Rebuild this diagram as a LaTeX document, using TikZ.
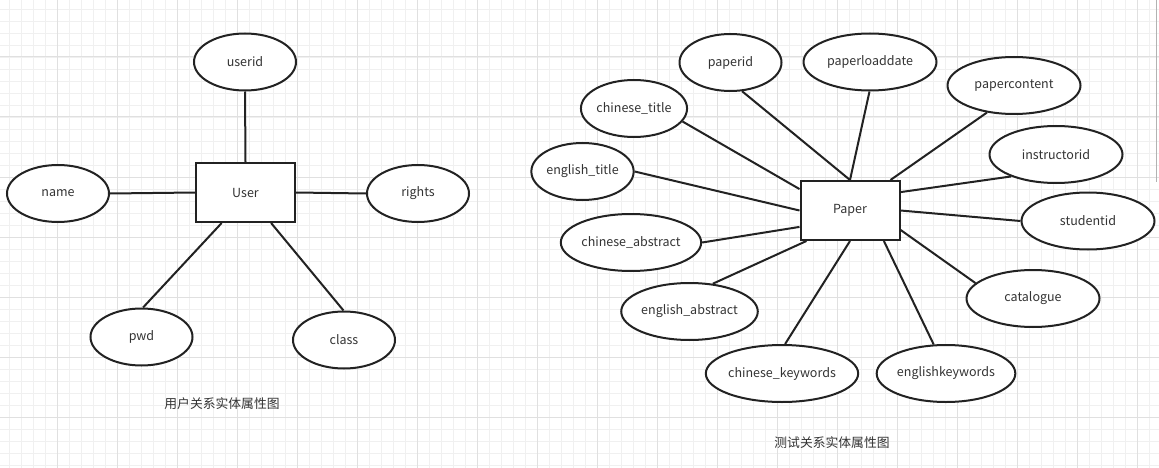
\documentclass[tikz,border=0pt]{standalone}
\usepackage{fontspec}
\setmainfont{Noto Sans CJK SC}
\usetikzlibrary{shapes.geometric}
\definecolor{ink}{HTML}{222222}
\definecolor{txt}{HTML}{333333}
\definecolor{gminor}{HTML}{F0F0F0}
\definecolor{gmajor}{HTML}{E0E0E0}
\begin{document}
\begin{tikzpicture}[x=1pt,y=-1pt,
  entity/.style={draw=ink, line width=2pt, fill=white, minimum width=99pt, minimum height=59pt, inner sep=0pt, font=\fontsize{12.5}{15}\selectfont, text=txt},
  attr/.style={ellipse, draw=ink, line width=2pt, fill=white, inner sep=0pt, minimum width=102pt, minimum height=57pt, font=\fontsize{12.5}{15}\selectfont, text=txt},
  wattr/.style={attr, minimum width=133pt},
  link/.style={draw=ink, line width=2pt},
  caption/.style={font=\fontsize{12.8}{15}\selectfont, text=txt},
  minor/.style={gminor, line width=0.8pt},
  major/.style={gmajor, line width=1pt}]
\fill[white] (0,0) rectangle (1159,468);
\useasboundingbox (0,0) rectangle (1159,468);
% grid
\foreach \x in {9,21,...,1159} \draw[minor] (\x,0) -- (\x,468);
\foreach \y in {9,21,...,468} \draw[minor] (0,\y) -- (1159,\y);
\foreach \x in {57,117,...,1159} \draw[major] (\x,0) -- (\x,468);
\foreach \y in {57,117,...,468} \draw[major] (0,\y) -- (1159,\y);
\draw[gray!60, line width=1pt] (1156,0) -- (1156,182);

% ===== User =====
\node[entity] (user) at (245.5,192.5) {User};
\node[attr] (userid) at (245,62) {userid};
\node[attr] (name) at (58,193.5) {name};
\node[attr] (rights) at (418,193.5) {rights};
\node[attr] (pwd) at (141.5,337) {pwd};
\node[attr] (class) at (344,340) {class};
\draw[link] (userid.south) -- (user.north);
\draw[link] (name.east) -- (user.west);
\draw[link] (rights.west) -- (user.east);
\draw[link] (pwd.87) -- (user.232);
\draw[link] (class.91) -- (user.310);
\node[caption] (cap1) at (222,404) {用户关系实体属性图};

% ===== Paper =====
\node[entity] (paper) at (850,210.5) {Paper};
\node[attr] (paperid) at (730.5,62.5) {paperid};
\node[attr] (ctitle) at (634,108.5) {chinese\_title};
\node[attr] (etitle) at (582.5,171.5) {english\_title};
\node[wattr] (pdate) at (870,62) {paperloaddate};
\node[wattr] (pcontent) at (1014,85.5) {papercontent};
\node[wattr] (instr) at (1056,154.5) {instructorid};
\node[wattr] (stud) at (1088,221) {studentid};
\node[wattr] (catal) at (1033,298.5) {catalogue};
\node[wattr] (ekey) at (946,373.5) {englishkeywords};
\node[wattr] (ckey) at (782,373.5) {chinese\_keywords};
\node[wattr] (eabs) at (689.5,311.5) {english\_abstract};
\node[wattr] (cabs) at (631,242.5) {chinese\_abstract};
\draw[link] (paperid.-68) -- (paper.north);
\draw[link] (pdate.-91) -- (paper.north);
\draw[link] (pcontent.225) -- (paper.37.8);
\draw[link] (instr.206) -- (paper.20.3);
\draw[link] (stud.west) -- (paper.east);
\draw[link] (catal.165) -- (paper.-21.3);
\draw[link] (ekey.113) -- (paper.-42.7);
\draw[link] (ckey.84) -- (paper.south);
\draw[link] (eabs.50) -- (paper.215.1);
\draw[link] (cabs.east) -- (paper.198.4);
\draw[link] (etitle.east) -- (paper.west);
\draw[link] (ctitle.-15) -- (paper.157.5);
\node[caption] (cap2) at (832,443) {测试关系实体属性图};
\end{tikzpicture}
\end{document}
